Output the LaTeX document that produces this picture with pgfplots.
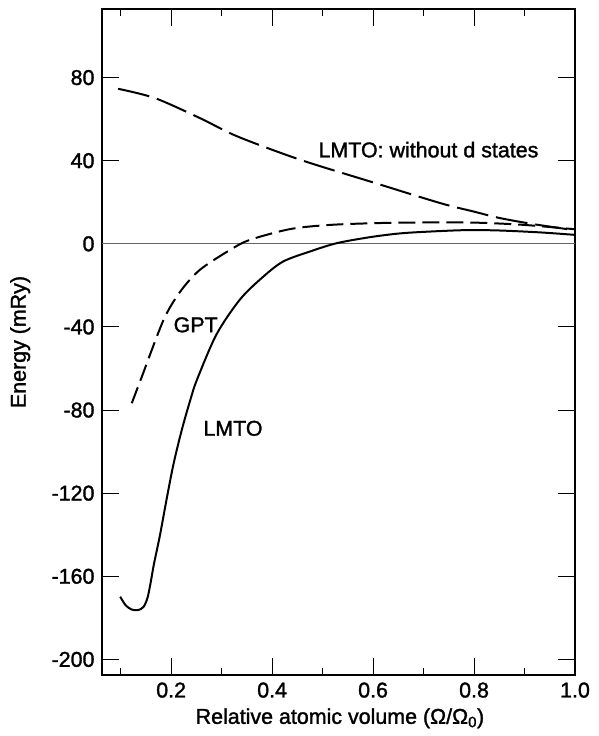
\documentclass[border=0pt]{standalone}
\usepackage{fontspec}
\setmainfont{Liberation Sans}[FakeBold=1.5]
\usepackage{pgfplots}
\pgfplotsset{compat=1.18}

\begin{document}
\begin{tikzpicture}[font=\fontsize{21.5}{25}\selectfont]
\begin{axis}[
  scale only axis,
  width=473bp, height=666bp,
  xmin=0.063, xmax=1.0,
  ymin=-207.5, ymax=113,
  xtick={0.2,0.4,0.6,0.8,1.0},
  minor xtick={0.1,0.3,0.5,0.7,0.9},
  ytick={-200,-160,-120,-80,-40,0,40,80},
  xticklabel style={yshift=-4bp, /pgf/number format/.cd,fixed,fixed zerofill,precision=1},
  yticklabel style={xshift=-4bp},
  /pgf/number format/assume math mode=true,
  major tick length=17bp,
  minor tick length=7bp,
  tick style={black, line width=0.9pt},
  axis line style={line width=1.2pt},
  xlabel={Relative atomic volume (Ω/Ω\textsubscript{0})},
  ylabel={Energy (mRy)},
  xlabel style={at={(axis description cs:0.503,-0.065)}, anchor=center},
  ylabel style={at={(axis description cs:-0.173,0.5)}, anchor=center},
  clip=false,
]
% zero line
\addplot[black!60, line width=0.9pt] coordinates {(0.063,0)(1.0,0)};

% LMTO: without d states
\addplot[black, line width=2pt, dash pattern=on 32bp off 8bp, smooth] coordinates {
  (0.095,74.6)(0.168,70.1)(0.257,60.5)(0.331,51.7)(0.455,40.5)
  (0.594,30.0)(0.733,19.6)(0.798,15.6)(0.851,12.4)(0.917,9.5)(1.0,6.5)
};

% GPT
\addplot[black, line width=2pt, dash pattern=on 17bp off 7bp, smooth] coordinates {
  (0.122,-76.7)(0.142,-63.9)(0.185,-36.6)(0.218,-23.0)(0.257,-12.5)
  (0.317,-2.9)(0.356,1.9)(0.436,7.1)(0.515,9.1)(0.614,10.0)(0.713,10.3)
  (0.80,10.2)(0.88,9.4)(0.94,8.3)(1.0,7.0)
};

% LMTO
\addplot[black, line width=2pt, smooth] coordinates {
  (0.099,-169.8)(0.110,-174)(0.122,-176)(0.134,-176.3)(0.145,-174.8)
  (0.153,-170.5)(0.159,-163.5)(0.166,-154)(0.178,-140)(0.192,-121.6)
  (0.205,-105.6)(0.221,-89.6)(0.238,-75.1)(0.251,-65.5)(0.29,-43.5)
  (0.337,-26.6)(0.383,-15.7)(0.422,-8.5)(0.475,-3.7)(0.528,0.3)
  (0.594,3.2)(0.653,5.0)(0.713,5.9)(0.786,6.6)(0.851,6.4)(0.93,5.5)(1.0,4.3)
};

\node[anchor=west] at (axis cs:0.485,45.3) {LMTO: without d states};
\node[anchor=west] at (axis cs:0.198,-39) {GPT};
\node[anchor=west] at (axis cs:0.257,-88.8) {LMTO};
\end{axis}
\path ([shift={(-102bp,-61bp)}]current axis.south west) rectangle ([shift={(24bp,9bp)}]current axis.north east);
\end{tikzpicture}
\end{document}
